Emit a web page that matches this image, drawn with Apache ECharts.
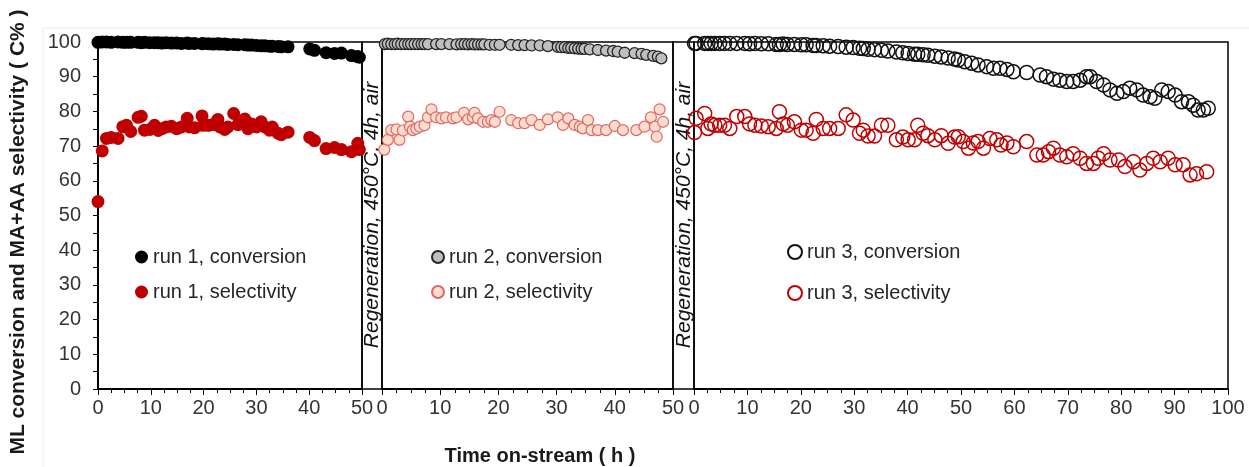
<!DOCTYPE html>
<html>
<head>
<meta charset="utf-8">
<script src="https://cdn.jsdelivr.net/npm/echarts@6/dist/echarts.min.js"></script>
<style>
html,body{margin:0;padding:0;background:#fff;}
#chart{width:1249px;height:467px;}
</style>
</head>
<body>
<div id="chart"></div>
<script>
// ---- Data ----
const yTicks = [0,10,20,30,40,50,60,70,80,90,100];
const run1Labels = ['run 1, conversion','run 1, selectivity'];
const run2Labels = ['run 2, conversion','run 2, selectivity'];
const run3Labels = ['run 3, conversion','run 3, selectivity'];
const yTitle = 'ML conversion and MA+AA selectivity ( C% )';
const xTitle = 'Time on-stream ( h )';
const regenText = 'Regeneration, 450°C, 4h, air';

// Run 1 (time h, values %)
const run1Time = [0,0.8,1.6,2.5,3.8,4.7,5.4,6.2,7.6,8.2,8.8,9.8,10.7,11.4,12.1,12.9,13.9,14.9,15.8,16.9,17.3,18.3,19.7,19.9,20.9,21.8,22.7,23.1,24,24.6,25.7,26.5,27.8,28.4,29.1,30.0,30.9,31.6,32.5,33,34.1,34.7,36.0,40.1,41,43.2,44.8,46.1,48,49.2,49.5];
const run1Conv = [99.9,100,100,99.9,100,99.9,99.9,99.9,99.9,99.8,99.9,99.8,99.8,99.8,99.7,99.8,99.7,99.7,99.6,99.7,99.6,99.6,99.5,99.6,99.5,99.4,99.5,99.4,99.4,99.3,99.3,99.2,99.2,99.1,99.1,99.0,98.9,98.9,98.8,98.8,98.7,98.6,98.6,98.0,97.6,96.9,96.7,96.8,96.1,95.8,95.6];
const run1Sel = [54,68.6,72.2,72.5,72.2,75.6,76,74.2,78.3,78.6,74.6,74.8,76,74.5,75,75.5,75.7,75,75.5,78,75.5,75.3,78.7,76,76,76.2,77.7,75.5,74.8,75.5,79.4,76.2,77.8,75,76.4,75.5,77,75.5,74.6,75.5,73.7,73.3,74,72.5,71.6,69.3,69.6,69,68.4,70.8,69];

// Run 2
const run2ConvTime = [0.5,1.0,1.6,2.2,2.7,3.3,3.9,4.5,5.0,5.6,6.2,6.8,7.3,7.9,9.3,10.2,11.6,12.8,13.6,14.2,14.8,15.4,15.9,16.5,17.1,17.6,18.5,19.4,20.2,22.2,23.4,24.5,25.7,27.1,28.5,30.2,30.8,31.4,32.0,32.5,33.1,33.7,34.3,34.8,35.7,37.1,38.5,39.7,40.5,41.7,43.4,44.6,45.4,46.6,47.4,48.0];
const run2Conv = [99.4,99.5,99.4,99.4,99.5,99.4,99.4,99.4,99.4,99.4,99.4,99.4,99.4,99.4,99.4,99.4,99.4,99.3,99.4,99.4,99.3,99.4,99.3,99.3,99.3,99.3,99.2,99.2,99.2,99.2,99.1,99.1,99.0,99.0,98.8,98.6,98.5,98.5,98.3,98.3,98.2,98.1,98.0,98.0,97.9,97.7,97.5,97.4,97.2,96.9,96.8,96.6,96.3,96.0,95.8,95.3];
const run2SelTime = [0.4,1.0,1.6,2.5,3.0,3.6,4.5,4.8,5.3,5.9,6.5,7.3,7.9,8.5,9.3,10.2,11.0,12.2,12.8,14.1,14.8,15.6,15.9,16.5,17.4,18.2,18.8,19.4,20.2,22.2,23.4,24.5,25.7,27.1,28.5,30.2,31.1,32.0,33.1,34.0,34.5,35.4,36.0,37.1,38.5,40.0,41.4,43.7,45.1,46.2,46.9,47.2,47.7,48.3];
const run2Sel = [69.0,71.8,74.6,74.8,71.8,74.5,78.5,75.6,74.6,75.0,75.6,76.0,78.3,80.6,78.3,78.0,78.3,78.0,78.3,79.6,77.7,78.3,79.6,78.0,77.0,77.0,77.5,77.0,79.9,77.5,76.6,76.6,77.5,76.1,77.7,78.3,76.1,78.0,76.1,75.6,75.1,77.5,74.6,74.6,74.6,75.8,74.6,74.6,75.6,78.3,75.6,72.7,80.6,77.0];

// Run 3
const run3Time = [0.1,0.4,2.0,2.6,3.2,3.9,4.8,5.7,6.7,8.0,9.5,10.4,11.4,12.6,13.9,15.4,16.0,16.7,17.5,18.8,20.1,21.0,22.3,22.9,24.2,25.4,27.0,28.5,29.8,31.0,31.7,32.6,33.8,35.1,36.3,37.9,39.1,40.1,41.3,41.9,42.9,43.8,45.1,46.3,47.6,48.8];
const run3Conv = [99.6,99.6,99.6,99.6,99.6,99.6,99.6,99.6,99.6,99.6,99.6,99.5,99.6,99.5,99.5,99.3,99.3,99.4,99.3,99.3,99.2,99.2,99.0,99.0,98.9,98.8,98.7,98.5,98.4,98.2,98.1,97.9,97.8,97.6,97.4,97.1,96.9,96.7,96.5,96.5,96.3,96.2,95.9,95.7,95.4,95.1];
const run3Sel = [73.9,78.0,79.4,75.1,76.4,76.0,76.0,76.0,75.1,78.5,78.5,76.4,76.0,75.8,75.6,75.1,79.9,76.4,76.0,77.0,74.6,74.6,73.7,77.7,75.1,75.1,75.1,79.0,77.5,73.7,74.6,72.9,72.9,76.0,76.0,71.8,72.6,71.8,71.8,76.0,73.7,73.0,71.8,73.0,70.8,72.6];
const run3ConvTimeB = [49.5,50.7,52.0,53.2,54.8,56.1,57.3,58.6,59.8,62.3,64.8,66.0,67.3,68.5,69.8,71.0,72.3,73.5,74.2,75.4,76.7,77.9,79.2,80.4,81.6,82.9,84.1,85.4,86.3,87.6,88.8,90.1,91.3,92.6,93.5,94.4,95.4,96.3];
const run3ConvB = [94.8,94.3,93.9,93.4,92.9,92.4,92.4,92.1,91.4,91.2,90.5,90.0,89.3,89.0,88.6,88.6,89.0,90.0,90.0,88.6,87.6,86.2,85.2,85.7,86.7,86.2,84.7,84.2,83.8,86.2,85.7,84.7,82.8,82.8,81.8,80.4,80.4,80.9];
const run3SelTimeB = [49.5,50.4,51.4,52.3,53.2,54.2,55.4,56.7,57.5,58.6,59.8,62.3,64.2,65.4,66.4,67.3,68.5,69.8,71.0,72.3,73.5,74.8,75.7,76.7,77.9,79.5,80.7,82.3,83.5,84.8,86.0,87.3,88.8,90.1,91.6,92.9,94.1,96.0];
const run3SelB = [72.7,71.3,69.4,70.9,71.3,69.4,72.2,71.8,70.3,70.9,69.8,71.3,67.4,67.4,68.4,69.4,67.4,66.9,67.8,66.5,65.0,65.0,66.5,67.8,66.0,66.0,64.1,65.5,63.1,65.0,66.5,65.5,66.5,64.6,64.6,61.7,62.0,62.6];

function pairs(xs, ys){ return xs.map((x,i)=>[x, ys[i]]); }

const FONT = "'Liberation Sans', Arial, sans-serif";
const TXT = '#333';
const FS = 20;

const chart = echarts.init(document.getElementById('chart'), null, {renderer:'canvas'});

const gTop = 42, gHeight = 347;
const grids = [
  {left:98, width:264, top:gTop, height:gHeight, show:true, borderColor:'#000', borderWidth:1.5},
  {left:362, width:20, top:gTop, height:gHeight, show:true, borderColor:'#000', borderWidth:1.5},
  {left:382, width:291, top:gTop, height:gHeight, show:true, borderColor:'#000', borderWidth:1.5},
  {left:673, width:21, top:gTop, height:gHeight, show:true, borderColor:'#000', borderWidth:1.5},
  {left:694, width:534, top:gTop, height:gHeight, show:true, borderColor:'#000', borderWidth:1.5}
];

function xAxisFor(gi, max, show){
  return {
    type:'value', gridIndex:gi, min:0, max:max, interval:10, show:show,
    axisLine:{show:true, onZero:false, lineStyle:{color:'#000', width:2}},
    axisTick:{show:true, length:6, lineStyle:{color:'#000', width:1}},
    minorTick:{show:true, splitNumber:4, length:4, lineStyle:{color:'#000', width:1}},
    splitLine:{show:false}, minorSplitLine:{show:false},
    axisLabel:{color:TXT, fontSize:FS, fontFamily:FONT, margin:9, showMinLabel:true, showMaxLabel:true}
  };
}
function yAxisFor(gi, show){
  return {
    type:'value', gridIndex:gi, min:0, max:100, interval:10, show:show,
    axisLine:{show:true, lineStyle:{color:'#000', width:2}},
    axisTick:{show:true, length:5, lineStyle:{color:'#000', width:1}},
    minorTick:{show:true, splitNumber:2, length:5, lineStyle:{color:'#000', width:1}},
    splitLine:{show:false},
    axisLabel:{color:TXT, fontSize:FS, fontFamily:FONT, margin:17}
  };
}
const legendText = {fontSize:FS, fontFamily:FONT, color:'#262626', lineHeight:22};

const option = {
  backgroundColor:'#fff',
  animation:false,
  grid: grids,
  xAxis: [
    xAxisFor(0, 50, true),
    xAxisFor(1, 1, false),
    xAxisFor(2, 50, true),
    xAxisFor(3, 1, false),
    xAxisFor(4, 100, true)
  ],
  yAxis: [
    yAxisFor(0, true),
    yAxisFor(1, false),
    yAxisFor(2, false),
    yAxisFor(3, false),
    yAxisFor(4, false)
  ],
  legend: [
    {data:run1Labels, orient:'vertical', left:130, top:241, itemWidth:13, itemHeight:13, itemGap:13, textStyle:legendText},
    {data:run2Labels, orient:'vertical', left:426, top:241, itemWidth:12, itemHeight:12, itemGap:13, textStyle:legendText},
    {data:run3Labels, orient:'vertical', left:782, top:236, itemWidth:14, itemHeight:14, itemGap:19, textStyle:legendText}
  ],
  graphic: [
    {type:'line', silent:true, z:-10, shape:{x1:43, y1:28, x2:1249, y2:28}, style:{stroke:'#ececec', lineWidth:1}},
    {type:'line', silent:true, z:-10, shape:{x1:43, y1:28, x2:43, y2:467}, style:{stroke:'#ececec', lineWidth:1}},
    {type:'text', silent:true, x:18, y:232, rotation:Math.PI/2,
     style:{text:yTitle, fontSize:21, fontWeight:'bold', fontFamily:FONT, fill:'#1a1a1a', textAlign:'center', textVerticalAlign:'middle'}},
    {type:'text', silent:true, x:540, y:456,
     style:{text:xTitle, fontSize:20, fontWeight:'bold', fontFamily:FONT, fill:'#1a1a1a', textAlign:'center', textVerticalAlign:'middle'}},
    {type:'text', silent:true, x:372, y:215, rotation:Math.PI/2,
     style:{text:regenText, fontSize:21, fontStyle:'italic', fontFamily:FONT, fill:'#111', textAlign:'center', textVerticalAlign:'middle'}},
    {type:'text', silent:true, x:684, y:215, rotation:Math.PI/2,
     style:{text:regenText, fontSize:21, fontStyle:'italic', fontFamily:FONT, fill:'#111', textAlign:'center', textVerticalAlign:'middle'}}
  ],
  series: [
    {name:run1Labels[0], type:'scatter', xAxisIndex:0, yAxisIndex:0, symbol:'circle', symbolSize:13, clip:false,
     itemStyle:{color:'#000', opacity:1}, data:pairs(run1Time, run1Conv)},
    {name:run1Labels[1], type:'scatter', xAxisIndex:0, yAxisIndex:0, symbol:'circle', symbolSize:13, clip:false,
     itemStyle:{color:'#c00000', opacity:1}, data:pairs(run1Time, run1Sel)},
    {name:run2Labels[0], type:'scatter', xAxisIndex:2, yAxisIndex:2, symbol:'circle', symbolSize:11, clip:false,
     itemStyle:{color:'#bfbfbf', borderColor:'#262626', borderWidth:1.3, opacity:1}, data:pairs(run2ConvTime, run2Conv)},
    {name:run2Labels[1], type:'scatter', xAxisIndex:2, yAxisIndex:2, symbol:'circle', symbolSize:11, clip:false,
     itemStyle:{color:'#fbdccd', borderColor:'#e06666', borderWidth:1.2, opacity:1}, data:pairs(run2SelTime, run2Sel)},
    {name:run3Labels[0], type:'scatter', xAxisIndex:4, yAxisIndex:4, symbol:'circle', symbolSize:14, clip:false,
     itemStyle:{color:'rgba(255,255,255,0)', borderColor:'#111', borderWidth:1.5, opacity:1},
     data:pairs(run3Time, run3Conv).concat(pairs(run3ConvTimeB, run3ConvB))},
    {name:run3Labels[1], type:'scatter', xAxisIndex:4, yAxisIndex:4, symbol:'circle', symbolSize:14, clip:false,
     itemStyle:{color:'rgba(255,255,255,0)', borderColor:'#c00000', borderWidth:1.5, opacity:1},
     data:pairs(run3Time, run3Sel).concat(pairs(run3SelTimeB, run3SelB))}
  ]
};
chart.setOption(option);
</script>
</body>
</html>
